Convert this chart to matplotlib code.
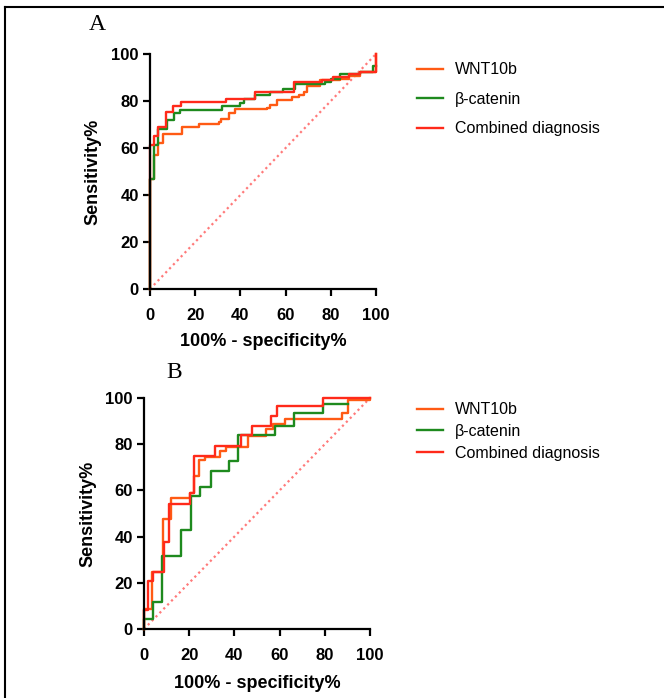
import matplotlib
matplotlib.use("Agg")
import matplotlib.pyplot as plt
from matplotlib.lines import Line2D

# ---------------- data ----------------
series_names = ["WNT10b", "β-catenin", "Combined diagnosis"]
colors = ["#FF5A14", "#1E8A1E", "#FF2A1A"]
diag_color = "#FF7A7A"
xticks = [0, 20, 40, 60, 80, 100]
yticks = [0, 20, 40, 60, 80, 100]

# Panel A (ROC step vertices: 100%-specificity, sensitivity)
a_wnt_x = [0, 0, 1.8, 3.5, 5.9, 14.3, 21.6, 30.4, 31.5, 35, 37.8, 51.8, 53, 56, 63, 66, 68, 69.4, 75.3, 84, 88, 93, 100]
a_wnt_y = [0, 47, 57, 62, 66, 69, 70, 71, 72.5, 75, 76.5, 77, 78.5, 80.5, 81.5, 82.5, 84, 86.5, 89, 89.5, 90.5, 92.5, 100]
a_cat_x = [0, 0, 1.8, 3.5, 7.4, 10.6, 13.2, 31.9, 40, 41.5, 46.6, 53.2, 59, 64, 77.5, 80, 84, 93, 98.8, 100]
a_cat_y = [0, 47, 61.4, 67.9, 72, 74.7, 76.1, 77.9, 79.3, 81, 82.4, 83.9, 85.3, 87.1, 88.1, 89.5, 91.4, 92.4, 95, 95]
a_com_x = [0, 0, 1.8, 3.5, 6.9, 10.3, 13.8, 33.8, 46.6, 63.5, 76, 81, 88, 93, 100]
a_com_y = [0, 61.4, 65, 69, 75.3, 77.9, 79.6, 81, 84, 88, 89, 90, 91.5, 92.5, 100]

# Panel B
b_wnt_x = [0, 0, 3.5, 8.4, 11.8, 20.2, 22, 24.5, 27, 33.5, 36.5, 46, 54, 57.2, 62.3, 87.4, 90.4, 100]
b_wnt_y = [0, 8.7, 24.5, 47.6, 56.7, 58.9, 66.4, 73, 74.5, 77, 79, 83.7, 86.6, 88.9, 91, 93.5, 99.3, 100]
b_cat_x = [0, 0, 4, 8, 16.2, 20.7, 24.7, 29.5, 37.5, 41.4, 58, 66.5, 79.3, 90.4]
b_cat_y = [0, 4.3, 11.5, 31.7, 43, 57.4, 61.5, 68.3, 72.6, 84.1, 88, 93.5, 97.5, 97.5]
b_com_x = [0, 0, 1.8, 4, 8.9, 10.9, 20.2, 22, 31.3, 42.8, 47.6, 56.4, 59, 79.3, 100]
b_com_y = [0, 8.4, 20.6, 24.5, 37.5, 54.3, 58.9, 75, 79.4, 84.1, 87.7, 92, 96.4, 100, 100]

panels = [
    ("A", [(a_wnt_x, a_wnt_y), (a_cat_x, a_cat_y), (a_com_x, a_com_y)]),
    ("B", [(b_wnt_x, b_wnt_y), (b_cat_x, b_cat_y), (b_com_x, b_com_y)]),
]

# ---------------- layout ----------------
W, H = 664, 698
fig = plt.figure(figsize=(W / 100, H / 100), dpi=100)
fig.patch.set_facecolor("white")

def fx(px):
    return px / W

def fy(py):
    return 1 - py / H

# axes rect in pixels: left, right, top(100), bottom(0)
rects = [(150, 376, 54, 289), (144, 370, 398, 629)]
panel_lbl_pos = [(97, 25), (174, 372)]
ylabel_x = [93, 88]
xlabel_y = [342, 683]
legend_pos = [(403, 48), (403, 388)]
legend_spacing = [0.9, 0.42]

sans = "Liberation Sans"

for i, (lbl, data) in enumerate(panels):
    l, r, t, b = rects[i]
    ax = fig.add_axes([fx(l), fy(b), (r - l) / W, (b - t) / H])
    ax.set_xlim(0, 100)
    ax.set_ylim(0, 100)
    ax.plot([0, 100], [0, 100], linestyle=(0, (1, 1.5)), color=diag_color,
            linewidth=1.6, clip_on=False)
    for (xs, ys), c, name in zip(data, colors, series_names):
        ax.plot(xs, ys, drawstyle="steps-post", color=c, linewidth=1.7,
                clip_on=False, label=name)
    for s in ["top", "right"]:
        ax.spines[s].set_visible(False)
    for s in ["left", "bottom"]:
        ax.spines[s].set_linewidth(1.6)
        ax.spines[s].set_color("black")
    ax.set_xticks(xticks)
    ax.set_yticks(yticks)
    ax.tick_params(direction="out", length=5, width=1.6, labelsize=12)
    ax.tick_params(axis="x", pad=9)
    ax.tick_params(axis="y", pad=3)
    for tl in ax.get_xticklabels() + ax.get_yticklabels():
        tl.set_fontweight("bold")
        tl.set_fontfamily(sans)
    ax.patch.set_alpha(0)

    fig.text(fx(ylabel_x[i]), fy((t + b) / 2), "Sensitivity%", rotation=90,
             ha="center", va="center", fontsize=13, fontweight="bold",
             family=sans)
    fig.text(fx((l + r) / 2), fy(xlabel_y[i]), "100% - specificity%",
             ha="center", va="center", fontsize=13, fontweight="bold",
             family=sans)
    px, py = panel_lbl_pos[i]
    fig.text(fx(px), fy(py), lbl, ha="center", va="center", fontsize=17,
             family="Liberation Serif")

    lx, ly = legend_pos[i]
    leg = ax.legend(loc="upper left", bbox_to_anchor=(fx(lx), fy(ly)),
                    bbox_transform=fig.transFigure, frameon=False,
                    handlelength=1.6, handletextpad=0.75,
                    labelspacing=legend_spacing[i],
                    prop={"family": sans, "size": 11.5})

# page frame lines (left and top)
fig.add_artist(Line2D([fx(5), fx(5)], [fy(7), 0], color="black", linewidth=1.5,
                      transform=fig.transFigure))
fig.add_artist(Line2D([fx(5), 1], [fy(7), fy(7)], color="black", linewidth=1.5,
                      transform=fig.transFigure))

fig.savefig("out.png", dpi=100)
